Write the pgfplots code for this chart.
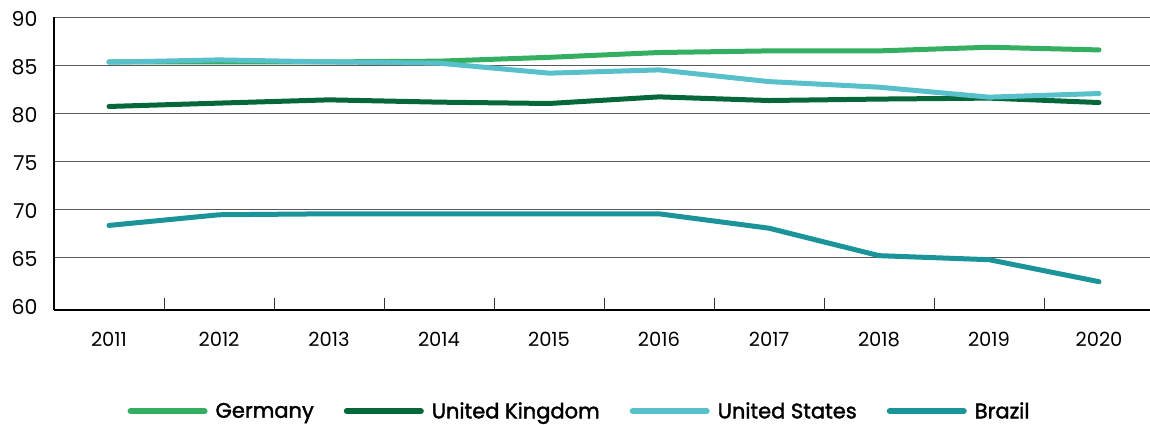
\documentclass[border=0pt]{standalone}
\usepackage{fontspec}
\setmainfont{Poppins}
\newfontfamily\legfont{Poppins}[FakeBold=1.8]
\usepackage{pgfplots}
\pgfplotsset{compat=1.18}
\definecolor{cde}{HTML}{34AE60}
\definecolor{cuk}{HTML}{06673A}
\definecolor{cus}{HTML}{58C0CB}
\definecolor{cbr}{HTML}{1A9499}
\begin{document}
\begin{tikzpicture}
\begin{axis}[
  scale only axis, width=1096pt, height=293pt,
  xmin=-0.5, xmax=9.4636, ymin=59.48, ymax=90,
  axis x line*=bottom, axis y line*=left,
  axis line style={black, line width=2.2pt, -},
  /pgf/number format/assume math mode=true,
  xtick={0,1,2,3,4,5,6,7,8,9},
  xticklabels={2011,2012,2013,2014,2015,2016,2017,2018,2019,2020},
  major tick length=0pt,
  minor xtick={0.5,1.5,2.5,3.5,4.5,5.5,6.5,7.5,8.5},
  minor x tick style={black!80, line width=1pt},
  minor tick length=12pt, tick align=inside,
  ytick={65,70,75,80,85,90},
  extra y ticks={60}, extra y tick style={grid=none},
  ymajorgrids, grid style={black!65, line width=0.8pt},
  xticklabel style={font=\fontsize{19.5}{19.5}\selectfont, yshift=-19pt},
  yticklabel style={font=\fontsize{20.5}{20.5}\selectfont, xshift=-13pt, yshift=-2pt},
  legend style={at={(0.4795,-0.345)}, anchor=center, draw=none, fill=none,
    legend columns=4, font=\fontsize{21}{21}\selectfont\legfont,
    /tikz/every odd column/.append style={column sep=6pt},
    /tikz/every even column/.append style={column sep=28pt}},
  legend cell align=left,
  legend image code/.code={\draw[#1, line width=6pt, line cap=round] (0pt,0pt) -- (74pt,0pt);},
  every axis plot/.append style={line width=5pt, line cap=round, line join=round},
]
\addplot[cde] coordinates {(0,85.32) (1,85.32) (2,85.32) (3,85.40) (4,85.80) (5,86.30) (6,86.47) (7,86.47) (8,86.85) (9,86.57)};
\addlegendentry{Germany}
\addplot[cuk] coordinates {(0,80.68) (1,81.03) (2,81.37) (3,81.13) (4,80.99) (5,81.68) (6,81.30) (7,81.45) (8,81.55) (9,81.09)};
\addlegendentry{United Kingdom}
\addplot[cus] coordinates {(0,85.29) (1,85.53) (2,85.32) (3,85.19) (4,84.15) (5,84.49) (6,83.27) (7,82.69) (8,81.65) (9,82.03)};
\addlegendentry{United States}
\addplot[cbr] coordinates {(0,68.29) (1,69.40) (2,69.50) (3,69.50) (4,69.50) (5,69.50) (6,68.00) (7,65.14) (8,64.72) (9,62.43)};
\addlegendentry{Brazil}
\end{axis}
\pgfresetboundingbox
\path (current axis.south west) ++(-54pt,-115pt) rectangle ++(1150pt,425pt);
\end{tikzpicture}
\end{document}
